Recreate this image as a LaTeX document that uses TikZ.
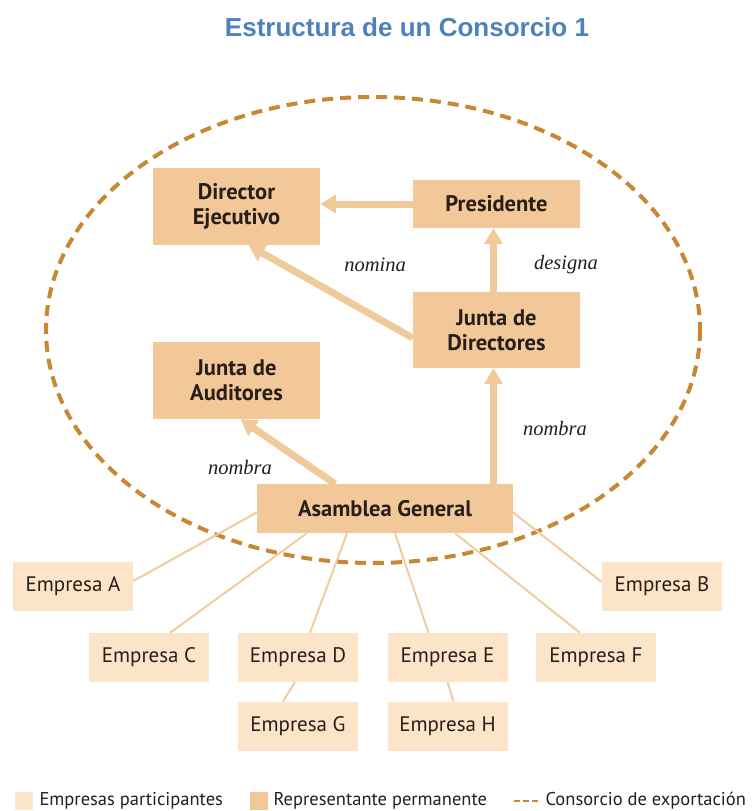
\documentclass[tikz,border=0pt]{standalone}
\usepackage{fontspec}
\usetikzlibrary{arrows.meta,calc}
\newfontfamily\titlefont{Liberation Sans}
\newfontfamily\boxfont{PT Sans}
\newfontfamily\labfont{Liberation Serif}
\definecolor{repfill}{RGB}{242,200,152}
\definecolor{partfill}{RGB}{251,228,200}
\definecolor{arrowcol}{RGB}{240,202,155}
\definecolor{linecol}{RGB}{240,205,160}
\definecolor{ellcol}{RGB}{200,135,50}
\definecolor{titleblue}{RGB}{79,129,189}
\definecolor{textdark}{RGB}{40,30,25}
\tikzset{
  repbox/.style={fill=repfill, draw=none, minimum width=167pt, inner sep=2pt,
    align=center, text=textdark, font=\boxfont\bfseries\fontsize{22.5}{25}\selectfont},
  partbox/.style={fill=partfill, draw=none, minimum width=120pt, minimum height=49pt,
    inner sep=2pt, text=textdark, font=\boxfont\fontsize{21}{24}\selectfont},
  bigarrow/.style={draw=arrowcol, line width=7pt, -{Triangle[length=16pt,width=18pt]}},
  thinline/.style={draw=linecol, line width=2pt},
  lab/.style={font=\labfont\itshape\fontsize{20.5}{24}\selectfont, text=textdark},
  legtext/.style={font=\boxfont\fontsize{18.5}{22}\selectfont, text=textdark, anchor=west}
}
\begin{document}
\begin{tikzpicture}[x=1pt,y=-1pt]
\useasboundingbox[fill=white] (0,0) rectangle (755,811);
% title
\node[font=\titlefont\bfseries\fontsize{26}{30}\selectfont, text=titleblue] (title) at (407,27) {Estructura de un Consorcio 1};
% ellipse
\draw[ellcol, line width=4pt, dash pattern=on 11pt off 7pt] (373,330) ellipse [x radius=327, y radius=233];
% representative boxes
\node[repbox, minimum height=77pt] (dir) at (236.5,206.5) {Director\\Ejecutivo};
\node[repbox, minimum height=48pt] (pres) at (496.5,204) {Presidente};
\node[repbox, minimum height=76pt] (jd) at (496.5,330) {Junta de\\Directores};
\node[repbox, minimum height=77pt] (aud) at (236.5,380.5) {Junta de\\Auditores};
\node[repbox, minimum width=256pt, minimum height=49pt] (ag) at (385,508.5) {Asamblea General};
% arrows
\draw[bigarrow] (pres.west) -- (pres.west -| dir.east);
\draw[bigarrow] ([xshift=-3pt]jd.north) -- ([xshift=-3pt]pres.south);
\draw[bigarrow] ([yshift=-8pt]jd.west) -- ([xshift=12pt]dir.south);
\draw[bigarrow] ([xshift=-3pt]jd.south |- ag.north) -- ([xshift=-3pt]jd.south);
\draw[bigarrow] ([xshift=-50pt]ag.north) -- ([xshift=4pt]aud.south);
% labels
\node[lab] (l1) at (375,265) {nomina};
\node[lab] (l2) at (566,265) {designa};
\node[lab] (l3) at (555,428) {nombra};
\node[lab] (l4) at (240,467) {nombra};
% participant boxes
\node[partbox] (ea) at (73,586) {Empresa A};
\node[partbox] (eb) at (662,586) {Empresa B};
\node[partbox] (ec) at (149,657.5) {Empresa C};
\node[partbox] (ed) at (298,657.5) {Empresa D};
\node[partbox] (ee) at (447.5,657.5) {Empresa E};
\node[partbox] (ef) at (596,657.5) {Empresa F};
\node[partbox] (eg) at (298,726) {Empresa G};
\node[partbox] (eh) at (447.5,726) {Empresa H};
% thin lines
\draw[thinline] ([yshift=5pt]ea.east) -- ([yshift=-4pt]ag.west);
\draw[thinline] ([xshift=21pt]ec.north) -- ([xshift=-78pt]ag.south);
\draw[thinline] ([xshift=12pt]ed.north) -- ([xshift=-38pt]ag.south);
\draw[thinline] ([xshift=-19pt]ee.north) -- ([xshift=10pt]ag.south);
\draw[thinline] ([xshift=-16pt]ef.north) -- ([xshift=70pt]ag.south);
\draw[thinline] ([yshift=4pt]eb.west) -- ([yshift=-4pt]ag.east);
\draw[thinline] ([xshift=-3pt]ed.south) -- ([xshift=-15pt]eg.north);
\draw[thinline] (ee.south) -- ([xshift=6pt]eh.north);
% legend
\node[fill=partfill, minimum width=18pt, minimum height=18pt, inner sep=0pt] (s1) at (24,801) {};
\node[legtext] (t1) at (36,801) {Empresas participantes};
\node[fill=repfill, minimum width=18pt, minimum height=18pt, inner sep=0pt] (s2) at (259,801) {};
\node[legtext] (t2) at (270,801) {Representante permanente};
\coordinate (d1) at (514,801);
\coordinate (d2) at (541,801);
\draw[ellcol, line width=2pt, dash pattern=on 6pt off 3pt] (d1) -- (d2);
\node[legtext] (t3) at (542,801) {Consorcio de exportación};
\end{tikzpicture}
\end{document}
